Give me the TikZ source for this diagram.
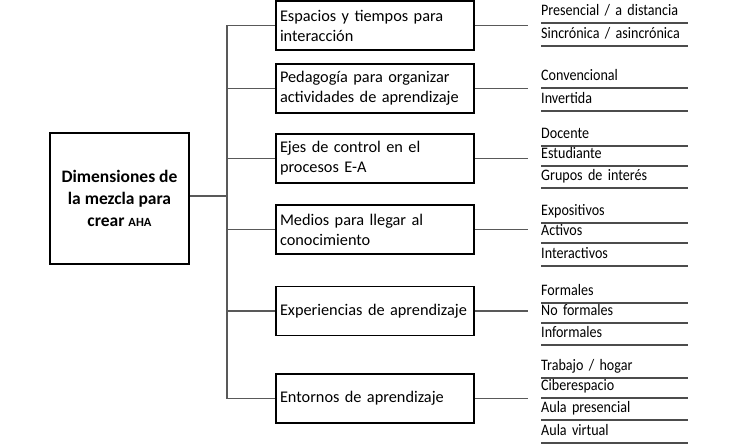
\documentclass[tikz,border=0pt]{standalone}
\usepackage{fontspec}
\setmainfont{Carlito}
\newfontfamily\itemfont[FakeStretch=0.88,WordSpace=0.75]{Carlito}
\usetikzlibrary{positioning}
\hyphenpenalty=10000
\tikzstyle{mainbox}=[rectangle,draw=black,line width=2.2pt,minimum width=139pt,minimum height=131pt,align=center,font=\fontsize{17.5}{22}\selectfont\bfseries]
\tikzstyle{catbox}=[rectangle,draw=black,line width=1.8pt,minimum width=198pt,minimum height=49pt,text width=190pt,inner xsep=4pt,align=left,font=\fontsize{16.3}{20}\selectfont]
\tikzstyle{item}=[anchor=south west,inner xsep=0pt,inner ysep=2pt,text depth=5pt,text width=147pt,align=left,font=\itemfont\fontsize{16}{18}\selectfont]
\tikzstyle{link} = [draw,black!65,line width=1.1pt]
\tikzstyle{underline} = [draw,black!70,line width=1.3pt]

\begin{document}
\begin{tikzpicture}[x=1pt,y=-1pt]
    \useasboundingbox (0,0) rectangle (738,444);
    % Root of the tree
    \node[mainbox] (dim) at (119.5,198.5) {Dimensiones de\\la mezcla para\\crear {\fontsize{12.5}{22}\selectfont AHA}};

    % Six dimensions
    \foreach \pos/\name/\label in {{(375,25.5)/esp/{Espacios y tiempos para\\interacción}},
        {(375,88.5)/ped/{Pedagogía para organizar\\actividades de aprendizaje}},
        {(375,158.5)/eje/{Ejes de control en el\\procesos E-A}},
        {(375,229.5)/med/{Medios para llegar al\\conocimiento}},
        {(375,311)/exp/{Experiencias de aprendizaje}},
        {(375,398.5)/ent/{Entornos de aprendizaje}}}
        \node[catbox] (\name) at \pos {\label};

    % Trunk and branches
    \draw[link] (dim.east |- 0,196) -- (227,196) coordinate (hub);
    \foreach \name in {esp, ped, eje, med, exp, ent}
        \draw[link] (hub) |- (\name.west);

    % Stubs towards the options
    \foreach \name in {esp, ped, eje, med, exp, ent}
        \draw[link] (\name.east) -- ++(53,0) coordinate (\name-r);

    % Options, each one underlined
    \foreach \y/\name/\label in {23/esp1/{Presencial / a distancia}, 46/esp2/{Sincrónica / asincrónica},
        88/ped1/Convencional, 111/ped2/Invertida,
        146/eje1/Docente, 166/eje2/Estudiante, 188/eje3/{Grupos de interés},
        223/med1/Expositivos, 243/med2/Activos, 266/med3/Interactivos,
        303/exp1/Formales, 323/exp2/{No formales}, 345/exp3/Informales,
        378/ent1/{Trabajo / hogar}, 398/ent2/Ciberespacio, 420/ent3/{Aula presencial}, 443/ent4/{Aula virtual}}
    {
        \node[item] (\name) at (541,\y) {\label};
        \path[underline] (\name.south west) -- (\name.south east);
    }
\end{tikzpicture}
\end{document}
